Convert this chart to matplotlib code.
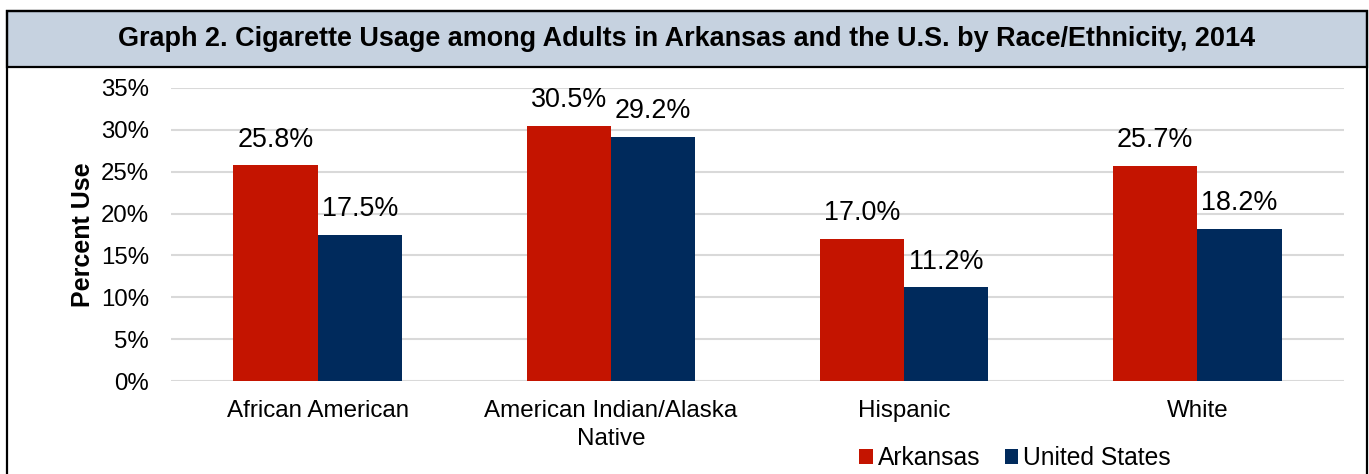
import numpy as np
import matplotlib
matplotlib.use("Agg")
import matplotlib.pyplot as plt
from matplotlib.patches import Rectangle

plt.rcParams["font.family"] = ["Liberation Sans", "DejaVu Sans"]

categories = ["African American", "American Indian/Alaska\nNative", "Hispanic", "White"]
arkansas = [25.8, 30.5, 17.0, 25.7]
united_states = [17.5, 29.2, 11.2, 18.2]
yticks = [0, 5, 10, 15, 20, 25, 30, 35]

RED = "#C41400"
NAVY = "#002A5C"

fig = plt.figure(figsize=(13.69, 4.74), dpi=100)

# pixel helpers for placing things in figure coords
W, H = 1369, 474
def fx(px): return px / W
def fy(py): return 1 - py / H

# outer frame and title band
frame = Rectangle((fx(7), fy(500)), fx(1367) - fx(7), fy(11) - fy(500),
                  transform=fig.transFigure, fill=False, ec="black", lw=1.6)
band = Rectangle((fx(7), fy(67)), fx(1367) - fx(7), fy(11) - fy(67),
                 transform=fig.transFigure, fc="#C6D2E0", ec="black", lw=1.6)
fig.patches.extend([band, frame])
fig.text(fx(687), fy(39), "Graph 2. Cigarette Usage among Adults in Arkansas and the U.S. by Race/Ethnicity, 2014",
         ha="center", va="center", fontsize=19.45, fontweight="bold")

ax = fig.add_axes([fx(171), fy(381), fx(1344) - fx(171), fy(88) - fy(381)])
x = np.arange(len(categories))
w = 0.287
b1 = ax.bar(x - w / 2, arkansas, w, color=RED, label="Arkansas", zorder=2)
b2 = ax.bar(x + w / 2, united_states, w, color=NAVY, label="United States", zorder=2)
for bars, vals in ((b1, arkansas), (b2, united_states)):
    for r, v in zip(bars, vals):
        ax.annotate(f"{v:.1f}%", (r.get_x() + r.get_width() / 2, v), xytext=(0, 9),
                    textcoords="offset points", ha="center", va="bottom", fontsize=19.4)

ax.set_xlim(-0.5, len(categories) - 0.5)
ax.set_ylim(0, 35)
ax.set_yticks(yticks)
ax.set_yticklabels([f"{t}%" for t in yticks], fontsize=17.3)
ax.set_xticks(x)
ax.set_xticklabels(categories, fontsize=17.4, linespacing=1.35, va="top")
ax.tick_params(length=0, pad=16)
ax.tick_params(axis="x", pad=14)
ax.grid(axis="y", color="#D9D9D9", lw=1.5, zorder=0)
for s in ax.spines.values():
    s.set_visible(False)
ax.set_ylabel("Percent Use", fontsize=18, fontweight="bold")
ax.yaxis.set_label_coords((95 - 171) / (1344 - 171), 0.5)

fig.legend(handles=[b1, b2], loc="center", bbox_to_anchor=(fx(1015), fy(458)), ncol=2,
           frameon=False, fontsize=17.7, handlelength=0.55, handleheight=0.55,
           handletextpad=0.2, columnspacing=1.0)

fig.savefig("out.png", dpi=100)
